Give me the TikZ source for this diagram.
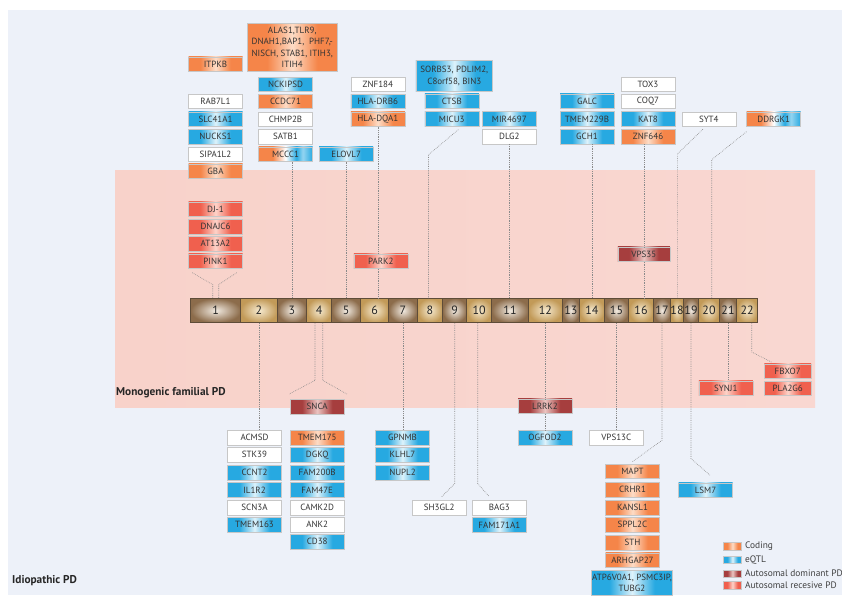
\documentclass[tikz,border=0pt]{standalone}
\usepackage{fontspec}
\setmainfont{PT Sans}
\usetikzlibrary{calc}
\definecolor{bgB}{HTML}{EDF1F9}
\definecolor{pkL}{HTML}{F8D2CA}
\definecolor{pkM}{HTML}{F5F0F2}
\definecolor{pkR}{HTML}{F9D7D1}
\definecolor{eqB}{HTML}{27A9E1}
\definecolor{eqL}{HTML}{DDF2FB}
\definecolor{coO}{HTML}{F58549}
\definecolor{coL}{HTML}{FDDCC6}
\definecolor{arR}{HTML}{F0604E}
\definecolor{arL}{HTML}{FDD3C9}
\definecolor{adR}{HTML}{A63E3E}
\definecolor{adL}{HTML}{EBC4C1}
\definecolor{brD}{HTML}{8C6C4B}
\definecolor{brL}{HTML}{F2EBE2}
\definecolor{gdD}{HTML}{C29A58}
\definecolor{gdL}{HTML}{F6EAD0}
\definecolor{chrLine}{HTML}{5E4C38}
\definecolor{txt}{HTML}{333333}
\definecolor{connC}{HTML}{8A8A8A}
\pgfdeclarehorizontalshading{glowE}{100bp}{color(0bp)=(eqB); color(36bp)=(eqB); color(50bp)=(eqL); color(64bp)=(eqB); color(100bp)=(eqB)}
\pgfdeclarehorizontalshading{glowO}{100bp}{color(0bp)=(coO); color(36bp)=(coO); color(50bp)=(coL); color(64bp)=(coO); color(100bp)=(coO)}
\pgfdeclarehorizontalshading{glowR}{100bp}{color(0bp)=(arR); color(36bp)=(arR); color(50bp)=(arL); color(64bp)=(arR); color(100bp)=(arR)}
\pgfdeclarehorizontalshading{glowD}{100bp}{color(0bp)=(adR); color(36bp)=(adR); color(50bp)=(adL); color(64bp)=(adR); color(100bp)=(adR)}
\pgfdeclarehorizontalshading{glowM}{100bp}{color(0bp)=(coO); color(38bp)=(coO); color(50bp)=(white); color(60bp)=(eqB); color(66bp)=(eqL!60!eqB); color(75bp)=(eqB); color(100bp)=(eqB)}
\tikzset{
 gb/.style={rectangle, minimum width=54pt, minimum height=14.5pt, inner sep=0pt, draw=black!22, line width=0.5pt, font=\fontsize{9}{10}\selectfont, text=txt},
 wb/.style={gb, fill=white},
 eb/.style={gb, shade, shading=glowE},
 ob/.style={gb, shade, shading=glowO},
 rb/.style={gb, shade, shading=glowR},
 db/.style={gb, shade, shading=glowD},
 mb/.style={gb, shade, shading=glowM},
 chrO/.style={rectangle, minimum height=24.4pt, inner sep=0pt, draw=chrLine, line width=0.6pt, inner color=brL, outer color=brD, font=\fontsize{12}{12}\selectfont, text=black!85},
 chrE/.style={chrO, inner color=gdL, outer color=gdD},
 conn/.style={draw=connC, line width=0.6pt, dash pattern=on 0.7pt off 1.1pt},
 lbl/.style={font=\bfseries\fontsize{11.3}{12}\selectfont, text=black!85, inner sep=0pt},
 lg/.style={font=\fontsize{9.4}{11}\selectfont, text=black!75, inner sep=0pt, anchor=west},
 sw/.style={minimum width=18.4pt, minimum height=7.3pt},
}
\begin{document}
\begin{tikzpicture}[x=1pt,y=-1pt]
\useasboundingbox (0,0) rectangle (842,595);
\fill[bgB] (8,10) rectangle (842,595);
\shade[left color=pkL, middle color=pkM, right color=pkR] (115,170) rectangle (815,407);

% chromosome bar
\foreach \i/\l/\r/\s in {1/190.7/240.7/chrO, 2/240.7/277.3/chrE, 3/277.3/306.7/chrO, 4/306.7/331.7/chrE, 5/331.7/360.7/chrO, 6/360.7/388.7/chrE, 7/388.7/417.3/chrO, 8/417.3/442.7/chrE, 9/442.7/466.7/chrO, 10/466.7/491.7/chrE, 11/491.7/528.3/chrO, 12/528.3/562.3/chrE, 13/562.3/579.3/chrO, 14/579.3/604.3/chrE, 15/604.3/628.7/chrO, 16/628.7/653.3/chrE, 17/653.3/670.7/chrO, 18/670.7/683.3/chrE, 19/683.3/698.7/chrO, 20/698.7/719.3/chrE, 21/719.3/736.7/chrO, 22/736.7/757.7/chrE}{
  \pgfmathsetmacro\w{\r-\l}
  \pgfmathsetmacro\cx{(\l+\r)/2}
  \node[\s, minimum width=\w pt] (c\i) at (\cx,310.5) {\i};
}

% top boxes
\node[ob] (itpkb) at (215.5,64.2) {ITPKB};
\node[ob, minimum width=90pt, minimum height=48.4pt, align=center, font=\fontsize{9}{11.5}\selectfont] (alas) at (292.3,47.5) {ALAS1,TLR9,\\DNAH1,BAP1,\ \ PHF7,-\\NISCH, STAB1, ITIH3,\\ITIH4};
\node[wb] (rab7l1) at (215.5,101.3) {RAB7L1};
\node[eb] (slc41a1) at (215.5,119.0) {SLC41A1};
\node[eb] (nucks1) at (215.5,136.6) {NUCKS1};
\node[wb] (sipa1l2) at (215.5,154.0) {SIPA1L2};
\node[ob] (gba) at (215.5,171.0) {GBA};
\node[eb] (nckipsd) at (285.5,84.3) {NCKIPSD};
\node[ob] (ccdc71) at (285.5,101.3) {CCDC71};
\node[wb] (chmp2b) at (285.5,119.0) {CHMP2B};
\node[wb] (satb1) at (285.5,136.6) {SATB1};
\node[mb] (mccc1) at (285.5,154.0) {MCCC1};
\node[eb] (elovl7) at (346.2,154.0) {ELOVL7};
\node[wb] (znf184) at (377.8,84.3) {ZNF184};
\node[eb] (hladrb6) at (377.8,101.3) {HLA-DRB6};
\node[ob] (hladqa1) at (377.8,119.0) {HLA-DQA1};
\node[eb, minimum width=76.7pt, minimum height=30.6pt, align=center, font=\fontsize{9}{12}\selectfont] (sorbs3) at (454.3,76) {SORBS3, PDLIM2,\\C8orf58, BIN3};
\node[eb] (ctsb) at (451.8,101.0) {CTSB};
\node[eb] (micu3) at (451.8,118.9) {MICU3};
\node[eb] (mir4697) at (509.3,118.9) {MIR4697};
\node[wb] (dlg2) at (509.3,136.5) {DLG2};
\node[eb] (galc) at (587,101.0) {GALC};
\node[eb] (tmem229b) at (587,118.9) {TMEM229B};
\node[eb] (gch1) at (587,136.5) {GCH1};
\node[wb] (tox3) at (648,84.2) {TOX3};
\node[wb] (coq7) at (648,101.0) {COQ7};
\node[eb] (kat8) at (648,118.9) {KAT8};
\node[ob] (znf646) at (648,136.5) {ZNF646};
\node[wb] (syt4) at (708.8,119.2) {SYT4};
\node[mb] (ddrgk1) at (773.7,119.2) {DDRGK1};

% monogenic
\node[rb] (dj1) at (215.5,209.2) {DJ-1};
\node[rb] (dnajc6) at (215.5,226.8) {DNAJC6};
\node[rb] (at13a2) at (215.5,243.5) {AT13A2};
\node[rb] (pink1) at (215.5,261.2) {PINK1};
\node[rb] (park2) at (380.8,261.2) {PARK2};
\node[db, minimum width=52pt] (vps35) at (643.8,254.2) {VPS35};
\node[db] (snca) at (317.2,406.8) {SNCA};
\node[db] (lrrk2) at (545,406.2) {LRRK2};
\node[rb] (synj1) at (725.8,388) {SYNJ1};
\node[rb, minimum width=46.7pt] (fbxo7) at (787.7,371.2) {FBXO7};
\node[rb, minimum width=46.7pt] (pla2g6) at (787.7,388.4) {PLA2G6};

% bottom boxes
\node[wb] (acmsd) at (254.5,437.5) {ACMSD};
\node[wb] (stk39) at (254.5,454.8) {STK39};
\node[eb] (ccnt2) at (254.5,472.5) {CCNT2};
\node[eb] (il1r2) at (254.5,489.8) {IL1R2};
\node[wb] (scn3a) at (254.5,507.5) {SCN3A};
\node[eb] (tmem163) at (254.5,524.8) {TMEM163};
\node[ob] (tmem175) at (317.2,437.5) {TMEM175};
\node[eb] (dgkq) at (317.2,454.8) {DGKQ};
\node[eb] (fam200b) at (317.2,472.5) {FAM200B};
\node[eb] (fam47e) at (317.2,489.8) {FAM47E};
\node[wb] (camk2d) at (317.2,507.5) {CAMK2D};
\node[wb] (ank2) at (317.2,524.8) {ANK2};
\node[eb] (cd38) at (317.2,541.8) {CD38};
\node[eb] (gpnmb) at (402.5,437.5) {GPNMB};
\node[eb] (klhl7) at (402.5,454.8) {KLHL7};
\node[eb] (nupl2) at (402.5,472.5) {NUPL2};
\node[wb] (sh3gl2) at (439.2,507.5) {SH3GL2};
\node[wb] (bag3) at (499.3,507.5) {BAG3};
\node[eb] (fam171a1) at (499.3,524.8) {FAM171A1};
\node[eb] (ogfod2) at (545,437.8) {OGFOD2};
\node[wb] (vps13c) at (616.3,437.5) {VPS13C};
\node[ob] (mapt) at (632.5,471.3) {MAPT};
\node[ob] (crhr1) at (632.5,489.8) {CRHR1};
\node[ob] (kansl1) at (632.5,507.5) {KANSL1};
\node[ob] (sppl2c) at (632.5,524.8) {SPPL2C};
\node[ob] (sth) at (632.5,542.5) {STH};
\node[ob] (arhgap27) at (632.5,560.2) {ARHGAP27};
\node[eb, minimum width=80.6pt, minimum height=25pt, align=center, font=\fontsize{9}{11}\selectfont] (atp6v0a1) at (632,582.5) {ATP6V0A1, PSMC3IP,\\TUBG2};
\node[eb] (lsm7) at (705.5,490) {LSM7};

% labels
\node[lbl, anchor=west] (monolbl) at (116,393) {Monogenic familial PD};
\node[lbl, anchor=west] (idiolbl) at (12,580.5) {Idiopathic PD};

% legend
\node[ob, sw] (lgc) at (732.5,546.3) {};
\node[eb, sw] (lge) at (732.5,559.7) {};
\node[db, sw] (lgd) at (732.5,573.7) {};
\node[rb, sw] (lgr) at (732.5,585.3) {};
\node[lg] (lgct) at ($(lgc.east)+(3,0)$) {Coding};
\node[lg] (lget) at ($(lge.east)+(3,0)$) {eQTL};
\node[lg] (lgdt) at ($(lgd.east)+(3,0)$) {Autosomal dominant PD};
\node[lg] (lgrt) at ($(lgr.east)+(3,0)$) {Autosomal recesive PD};

% connectors above bar
\draw[conn] ($(pink1.south west)+(4,4)$) -- ($(c1.north)+(-3,-13.4)$) -- ($(c1.north)+(-3,0)$);
\draw[conn] ($(pink1.south east)+(-6,4)$) -- ($(c1.north)+(3,-13.4)$) -- ($(c1.north)+(3,0)$);
\draw[conn] (mccc1.south -| c3.north) -- (c3.north);
\draw[conn] (elovl7.south -| c5.north) -- (c5.north);
\draw[conn] (hladqa1.south) -- (hladqa1.south |- park2.north);
\draw[conn] (park2.south -| hladqa1.south) -- (hladqa1.south |- c6.north);
\draw[conn] ($(micu3.south)+(6.5,3.3)$) -- ($(c8.north)+(-1.5,-143.3)$) -- ($(c8.north)+(-1.5,0)$);
\draw[conn] (dlg2.south) -- (dlg2.south |- c11.north);
\draw[conn] (gch1.south -| c14.north) -- (c14.north);
\draw[conn] (znf646.south -| vps35.north) -- (vps35.north);
\draw[conn] (vps35.south) -- (vps35.south |- c16.north);
\draw[conn] ($(syt4.south)+(-6,2.6)$) -- ($(c18.north)+(0.3,-144)$) -- ($(c18.north)+(0.3,0)$);
\draw[conn] ($(ddrgk1.south west)+(0,5)$) -- ($(c20.north)+(2.7,-138.3)$) -- ($(c20.north)+(2.7,0)$);

% connectors below bar
\draw[conn] (c2.south) -- (c2.south |- acmsd.north);
\draw[conn] ($(c4.south)+(-4.2,0)$) -- ($(c4.south)+(-4.2,57.3)$) -- ($(snca.north west)+(-0.7,-5.3)$);
\draw[conn] ($(c4.south)+(3.5,0)$) -- ($(c4.south)+(3.5,57.3)$) -- ($(snca.north east)+(2.4,-5.3)$);
\draw[conn] (c7.south) -- (c7.south |- gpnmb.north);
\draw[conn] (c9.south) -- ($(c9.south)+(0,160.6)$) -- ($(sh3gl2.north)+(2.5,-3.3)$);
\draw[conn] ($(c10.south)+(-1.5,0)$) -- ($(c10.south)+(-1.5,160.6)$) -- ($(bag3.north)+(-10,-3.3)$);
\draw[conn] (c12.south) -- (c12.south |- lrrk2.north);
\draw[conn] (lrrk2.south) -- (ogfod2.north);
\draw[conn] (c15.south) -- (c15.south |- vps13c.north);
\draw[conn] (c17.south) -- ($(c17.south)+(0,117.3)$) -- ($(mapt.north)+(-0.8,-1.6)$);
\draw[conn] (c19.south) -- ($(c19.south)+(0,135.6)$) -- ($(lsm7.north)+(4.5,-7.3)$);
\draw[conn] (c21.south) -- (c21.south |- synj1.north);
\draw[conn] ($(c22.south)+(4.5,0)$) -- ($(c22.south)+(4.5,29)$) -- ($(fbxo7.north west)+(7.4,-1.6)$);
\end{tikzpicture}
\end{document}
